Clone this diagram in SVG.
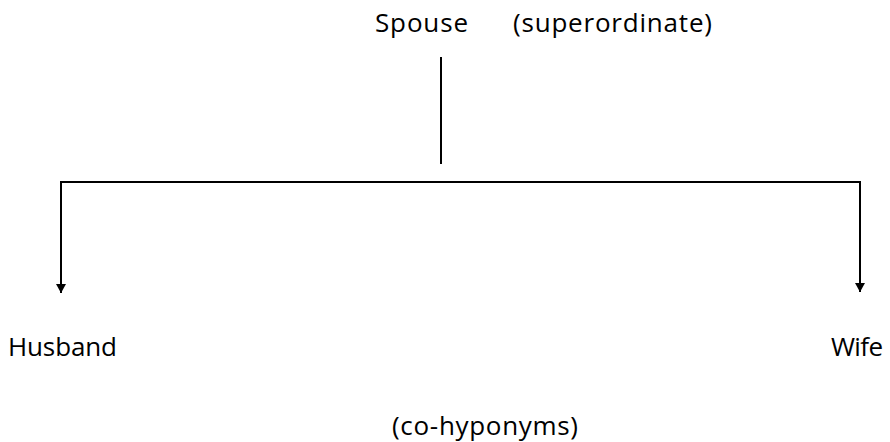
<svg xmlns="http://www.w3.org/2000/svg" width="890" height="442" viewBox="0 0 890 442">
  <style>
    text { font-family: "Open Sans", "Liberation Sans", sans-serif; font-size: 26px; fill: #000; }
    .line { stroke: #000; stroke-width: 2; fill: none; }
  </style>
  <defs>
    <marker id="arrow" markerWidth="10" markerHeight="10" refX="9" refY="5" orient="auto" markerUnits="userSpaceOnUse" viewBox="0 0 10 10">
      <path d="M0,0 L9,5 L0,10 Z" fill="#000"/>
    </marker>
  </defs>
  <rect width="890" height="442" fill="#fff"/>

  <g id="spouse">
    <text x="375" y="32" textLength="93" lengthAdjust="spacing">Spouse</text>
    <text x="513" y="32" textLength="199" lengthAdjust="spacing">(superordinate)</text>
  </g>
  <g id="husband">
    <text x="8" y="356" textLength="109" lengthAdjust="spacing">Husband</text>
  </g>
  <g id="wife">
    <text x="831" y="356" textLength="52" lengthAdjust="spacing">Wife</text>
  </g>
  <g id="cohyponyms">
    <text x="392" y="435" textLength="186" lengthAdjust="spacing">(co-hyponyms)</text>
  </g>

  <g id="connectors">
    <line class="line" x1="441" y1="57" x2="441" y2="164"/>
    <line class="line" x1="60" y1="182" x2="861" y2="182"/>
    <line class="line" x1="61" y1="181" x2="61" y2="293" marker-end="url(#arrow)"/>
    <line class="line" x1="860" y1="181" x2="860" y2="292" marker-end="url(#arrow)"/>
  </g>
</svg>
